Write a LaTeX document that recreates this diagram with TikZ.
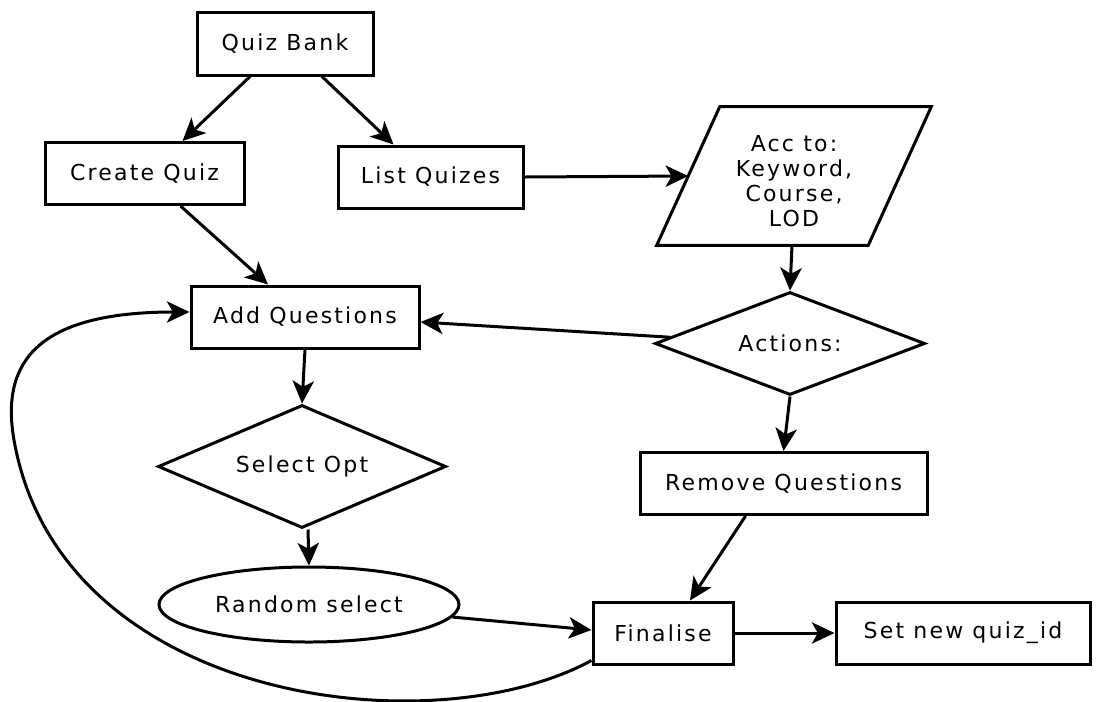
\documentclass[tikz,border=0pt]{standalone}
\usepackage{fontspec}
\setmainfont{DejaVu Sans}[LetterSpace=10]
\usetikzlibrary{shapes.geometric,arrows.meta,calc}
\def\pxu{0.75pt}
\begin{document}
\begin{tikzpicture}[x=\pxu, y=-\pxu,
  every node/.style={font=\fontsize{16.5}{18.75}\selectfont, inner sep=0pt},
  stepbox/.style={draw, line width=2.25pt, rectangle, minimum height=62*\pxu},
  decision/.style={draw, line width=2.25pt, diamond, inner sep=0pt},
  oval/.style={draw, line width=2.25pt, ellipse},
  flow/.style={line width=2.25pt, -{Stealth[length=17pt, width=16pt, inset=4.5pt]}}
]
\useasboundingbox (0,0) rectangle (1099,701);

% boxes
\node[stepbox, minimum width=176*\pxu, minimum height=63*\pxu] (qb) at (285,43.5) {Quiz Bank};
\node[stepbox, minimum width=199*\pxu] (cq) at (144.5,173.5) {Create Quiz};
\node[stepbox, minimum width=185*\pxu] (lq) at (430.5,177) {List Quizes};
\node[stepbox, minimum width=228*\pxu] (aq) at (305,317) {Add Questions};
\node[stepbox, minimum width=287*\pxu] (rq) at (783.5,483.5) {Remove Questions};
\node[stepbox, minimum width=140*\pxu] (fin) at (663,633) {Finalise};
\node[stepbox, minimum width=254*\pxu] (sn) at (963,633) {Set new quiz\_id};

% input parallelogram (text sits slightly below the shape's centre)
\node[minimum width=211*\pxu, minimum height=138*\pxu, align=center] (acc) at (794,181)
  {Acc to:\\Keyword,\\Course,\\LOD};
\draw[line width=2.25pt, line join=miter]
  ($(acc.south west)+(-31.5,-5)$) -- ($(acc.south east)+(-31.5,-5)$) --
  ($(acc.north east)+(31.5,-5)$) -- ($(acc.north west)+(31.5,-5)$) -- cycle;
\coordinate (accbottom) at ($(acc.south)+(-2,-5)$);

% decisions
\node[decision, aspect=2.6, minimum width=270*\pxu, minimum height=103*\pxu] (act) at (790,343.5) {Actions:};
\node[decision, aspect=2.34, minimum width=288*\pxu, minimum height=123*\pxu] (so) at (302,466.5) {Select Opt};

% terminal
\node[oval, minimum width=300*\pxu, minimum height=75*\pxu] (rs) at (309,604.5) {Random select};

% connectors
\draw[flow] ([xshift=-35*\pxu]qb.south) -- ([xshift=38*\pxu]cq.north);
\draw[flow] ([xshift=37*\pxu]qb.south) -- ([xshift=-37*\pxu]lq.north);
\draw[flow] ([xshift=36*\pxu]cq.south) -- ([xshift=-37*\pxu]aq.north);
\draw[flow] (lq.east) -- ([yshift=5*\pxu]acc.west);
\draw[flow] (accbottom) -- (act.north);
\draw[flow] (act.177) -- ([yshift=-5*\pxu]aq.east);
\draw[flow] (act.south) -- (rq.north);
\draw[flow] (aq.south) -- (so.north);
\draw[flow] ([xshift=6*\pxu]so.south) -- (rs.north);
\draw[flow] (rs.-5) -- ([yshift=3*\pxu]fin.west);
\draw[flow] ([xshift=-38*\pxu]rq.south) -- ([xshift=27*\pxu]fin.north);
\draw[flow] (fin.east) -- (sn.west);

% loop back from Finalise to Add Questions
\coordinate (loopleft) at (14,440);
\draw[flow] ([yshift=5*\pxu]fin.south west)
  .. controls (430,748) and (60,702) .. (loopleft)
  .. controls (0,360) and (40,312) .. ([yshift=5*\pxu]aq.west);
\end{tikzpicture}
\end{document}
